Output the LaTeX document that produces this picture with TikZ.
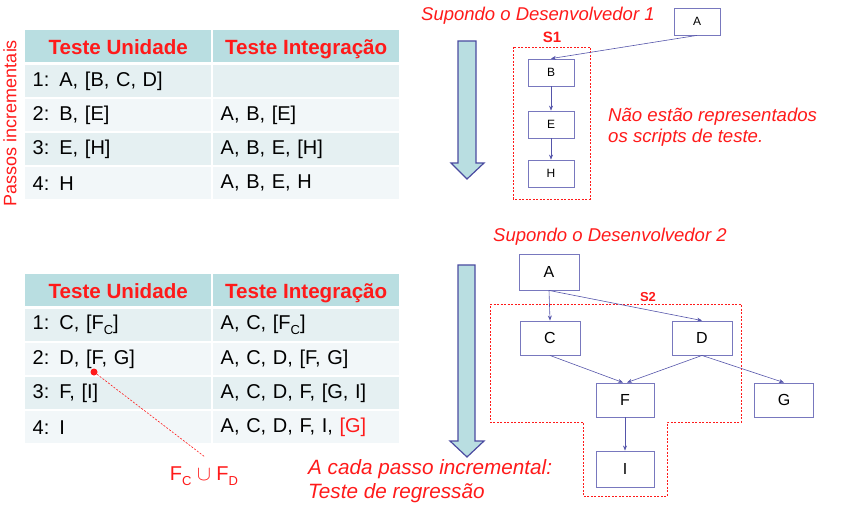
\documentclass[tikz,border=0pt]{standalone}
\usepackage{fontspec}
\setmainfont{Liberation Sans}
\usetikzlibrary{arrows.meta}
\definecolor{myred}{HTML}{FF1A1A}
\definecolor{hdrc}{RGB}{185,222,225}
\definecolor{rowa}{RGB}{229,240,242}
\definecolor{rowb}{RGB}{242,247,249}
\definecolor{boxc}{RGB}{120,120,190}
\definecolor{edgec}{RGB}{85,85,170}
\definecolor{arrc}{RGB}{75,75,160}
\newcommand{\fs}[1]{\fontsize{#1}{#1}\selectfont}
\newcommand{\sub}[1]{\raisebox{-0.25em}{\fontsize{13}{13}\selectfont #1}}
\tikzset{
  hdr/.style={fill=hdrc,text=myred,font=\fs{20.6}\bfseries,minimum width=186pt,minimum height=32pt,inner sep=0pt,text height=18pt,text depth=1.5pt,anchor=north west},
  cella/.style={fill=rowa,font=\fs{20},text width=171pt,align=left,inner xsep=7.5pt,inner ysep=0pt,minimum height=32pt,anchor=north west},
  cellb/.style={cella,fill=rowb},
  smallbox/.style={draw=boxc,fill=white,line width=0.8pt,minimum width=46pt,minimum height=27pt,inner sep=0pt,font=\fs{12}},
  bigbox/.style={draw=boxc,fill=white,line width=0.9pt,minimum width=60pt,minimum height=35pt,inner sep=0pt,font=\fs{16}},
  edge/.style={draw=edgec,line width=0.6pt,-{Stealth[length=5pt,width=4pt]}},
  sbound/.style={draw=myred,line width=0.6pt,dash pattern=on 2pt off 1.5pt},
  bigarrow/.style={fill=hdrc,draw=arrc,line width=1.2pt,line join=miter},
  redit/.style={text=myred,font=\fs{18.5}\itshape,inner sep=0pt,anchor=west},
}
\begin{document}
\begin{tikzpicture}[x=1pt,y=-1pt]
\useasboundingbox (0,0) rectangle (842,510);
% ---------- top table ----------
\node[hdr] (th1) at (25,30) {Teste Unidade};
\node[hdr] (th2) at (213,30) {Teste Integração};
\node[cella] (t11) at (25,65) {1: A, [B, C, D]};
\node[cella] (t12) at (213,65) {};
\node[cellb] (t21) at (25,99) {2: B, [E]};
\node[cellb] (t22) at (213,99) {A, B, [E]};
\node[cella] (t31) at (25,133) {3: E, [H]};
\node[cella] (t32) at (213,133) {A, B, E, [H]};
\node[cellb] (t41) at (25,167) {4: H};
\node[cellb] (t42) at (213,167) {A, B, E, H};
\node[rotate=90,text=myred,font=\fs{18},inner sep=0pt] (passos) at (10,123) {Passos incrementais};
% ---------- bottom table ----------
\node[hdr] (bh1) at (25,274) {Teste Unidade};
\node[hdr] (bh2) at (213,274) {Teste Integração};
\node[cella] (b11) at (25,309) {1: C, [F\sub{C}]};
\node[cella] (b12) at (213,309) {A, C, [F\sub{C}]};
\node[cellb] (b21) at (25,343) {2: D, [F, G]};
\node[cellb] (b22) at (213,343) {A, C, D, [F, G]};
\node[cella] (b31) at (25,377) {3: F, [I]};
\node[cella] (b32) at (213,377) {A, C, D, F, [G, I]};
\node[cellb] (b41) at (25,411) {4: I};
\node[cellb] (b42) at (213,411) {A, C, D, F, I, \textcolor{myred}{[G]}};
\node[circle,fill=myred,minimum size=7pt,inner sep=0pt] (dot) at (94,372) {};
\node[text=myred,font=\fs{20},inner sep=0pt] (fcd) at (204,476) {F\sub{C} $\cup$ F\sub{D}};
\coordinate (fcdend) at (205,457);
\draw[myred,line width=0.6pt,dash pattern=on 2pt off 1.5pt] (dot) -- (fcdend);
% ---------- big arrows ----------
\draw[bigarrow] (458,41) -- (476,41) -- (476,163) -- (484,163) -- (467,179) -- (451,163) -- (458,163) -- cycle;
\draw[bigarrow] (458,265) -- (475,265) -- (475,441) -- (484,441) -- (467,457) -- (450,441) -- (458,441) -- cycle;
% ---------- developer 1 ----------
\node[redit] (sup1) at (421,16) {Supondo o Desenvolvedor 1};
\draw[sbound] (513,47) rectangle (590,199);
\node[text=myred,font=\fs{15}\bfseries,inner sep=0pt] (s1) at (552,37) {S1};
\node[smallbox] (A1) at (697,21.5) {A};
\node[smallbox] (B1) at (551,72.5) {B};
\node[smallbox] (E1) at (551,124.5) {E};
\node[smallbox] (H1) at (551,173.5) {H};
\draw[edge] (A1.south) -- (B1.north);
\draw[edge] (B1) -- (E1);
\draw[edge] (E1) -- (H1);
\node[redit,align=left,font=\fontsize{18.6}{21}\selectfont\itshape] (nao) at (608,127.5) {Não estão representados\\os scripts de teste.};
% ---------- developer 2 ----------
\node[redit] (sup2) at (493,237) {Supondo o Desenvolvedor 2};
\draw[sbound] (490,304) -- (741,304) -- (741,422) -- (667,422) -- (667,496) -- (583,496) -- (583,422) -- (490,422) -- cycle;
\node[text=myred,font=\fs{13}\bfseries,inner sep=0pt] (s2) at (648,297) {S2};
\node[bigbox,minimum height=36pt] (A2) at (549,272) {A};
\node[bigbox,minimum height=34pt] (C2) at (550,338) {C};
\node[bigbox,minimum height=34pt] (D2) at (702,338) {D};
\node[bigbox,minimum width=58pt,minimum height=34pt] (F2) at (625,400) {F};
\node[bigbox,minimum width=59pt,minimum height=34pt] (G2) at (784,400) {G};
\node[bigbox,minimum width=58pt,minimum height=36pt] (I2) at (625,469) {I};
\draw[edge] (A2.south) -- (C2.north);
\draw[edge] (A2.south) -- (D2.north);
\draw[edge] (C2.south) -- ([xshift=-2pt]F2.north);
\draw[edge] (D2.south) -- ([xshift=2pt]F2.north);
\draw[edge] (D2.south) -- (G2.north);
\draw[edge] (F2) -- (I2);
\node[redit,align=left,font=\fontsize{20.7}{24}\selectfont\itshape] (acada) at (308,481) {A cada passo incremental:\\Teste de regressão};
\end{tikzpicture}
\end{document}
